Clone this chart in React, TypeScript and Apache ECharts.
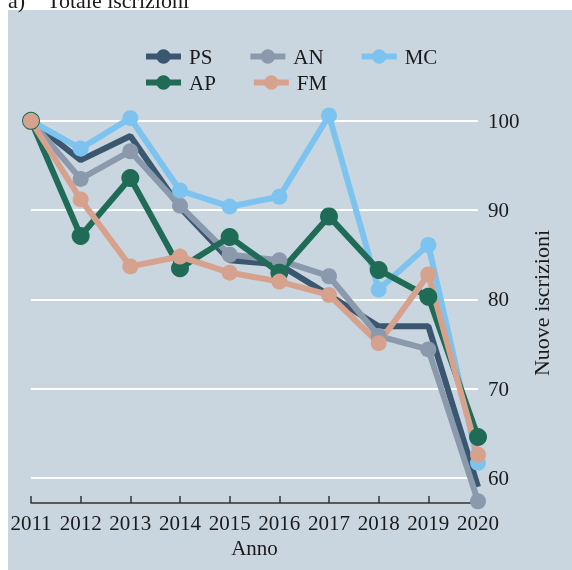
import React, { useEffect, useRef } from "react";
import * as echarts from "echarts";

const years = ["2011", "2012", "2013", "2014", "2015", "2016", "2017", "2018", "2019", "2020"];
const psValues = [100, 95.6, 98.3, 90.3, 84.4, 83.9, 80.5, 77.0, 77.0, 59.0];
const anValues = [100, 93.5, 96.6, 90.5, 85.0, 84.4, 82.6, 75.9, 74.4, 57.4];
const mcValues = [100, 96.9, 100.3, 92.2, 90.4, 91.5, 100.6, 81.1, 86.1, 61.7];
const apValues = [100, 87.1, 93.6, 83.5, 87.0, 83.0, 89.3, 83.3, 80.3, 64.6];
const fmValues = [100, 91.2, 83.7, 84.8, 83.0, 82.0, 80.5, 75.1, 82.8, 62.6];
const yTicks = [60, 70, 80, 90, 100];

const SERIF = "'Liberation Serif', 'DejaVu Serif', serif";

export default function App() {
  const ref = useRef<HTMLDivElement>(null);
  useEffect(() => {
    if (!ref.current) return;
    const chart = echarts.init(ref.current, null, { renderer: "svg" });
    const mk = (name: string, data: number[], color: string, symbolSize: number, symbol = "circle") => ({
      name,
      type: "line",
      data,
      symbol,
      symbolSize,
      showSymbol: symbol !== "none",
      itemStyle: { color },
      lineStyle: { color, width: 6 },
      emphasis: { disabled: true },
    });
    const legendBase = {
      left: 143,
      padding: 0,
      itemWidth: 35,
      itemHeight: 18,
      itemGap: 35,
      lineStyle: { width: 6 },
      textStyle: { fontFamily: SERIF, fontSize: 21, color: "#1a1a1a", padding: [0, 0, 0, 3] },
    };
    chart.setOption({
      animation: false,
      graphic: [
        { type: "rect", shape: { x: 8, y: 10, width: 564, height: 560 }, style: { fill: "#c9d6e0" }, z: -10 },
        { type: "text", x: 8, y: 0, style: { text: "a)", font: `22px ${SERIF}`, fill: "#1a1a1a", verticalAlign: "middle" } },
        { type: "text", x: 47, y: 0, style: { text: "Totale iscrizioni", font: `22px ${SERIF}`, fill: "#1a1a1a", verticalAlign: "middle" } },
      ],
      legend: [
        { ...legendBase, top: 46, data: ["PS", "AN", "MC"] },
        { ...legendBase, top: 72, data: ["AP", "FM"] },
      ],
      grid: { left: 31, right: 94, top: 103, bottom: 67 },
      xAxis: {
        type: "category",
        data: years,
        boundaryGap: false,
        name: "Anno",
        nameLocation: "middle",
        nameGap: 24,
        nameTextStyle: { fontFamily: SERIF, fontSize: 21, color: "#1a1a1a" },
        axisLine: { lineStyle: { color: "#333", width: 1.5 } },
        axisTick: { inside: true, length: 7, lineStyle: { color: "#333", width: 1.5 } },
        axisLabel: { fontFamily: SERIF, fontSize: 21, color: "#1a1a1a", margin: 9, interval: 0 },
        splitLine: { show: false },
      },
      yAxis: {
        type: "value",
        position: "right",
        min: 57.2,
        max: 102,
        name: "Nuove iscrizioni",
        nameLocation: "middle",
        nameRotate: 90,
        nameGap: 50,
        nameTextStyle: { fontFamily: SERIF, fontSize: 22, color: "#1a1a1a" },
        axisLine: { show: false },
        axisTick: { show: false, customValues: yTicks },
        axisLabel: { fontFamily: SERIF, fontSize: 21, color: "#1a1a1a", margin: 10, customValues: yTicks },
        splitLine: { show: true, lineStyle: { color: "#ffffff", width: 2 } },
      },
      series: [
        mk("PS", psValues, "#3b5770", 0, "none"),
        mk("AN", anValues, "#8a9aac", 16),
        mk("MC", mcValues, "#7cc4ef", 16),
        mk("AP", apValues, "#1f6b56", 18),
        mk("FM", fmValues, "#d6a28e", 16),
      ],
    });
    return () => chart.dispose();
  }, []);
  return <div ref={ref} style={{ position: "fixed", left: 0, top: 0, width: 572, height: 570 }} />;
}
